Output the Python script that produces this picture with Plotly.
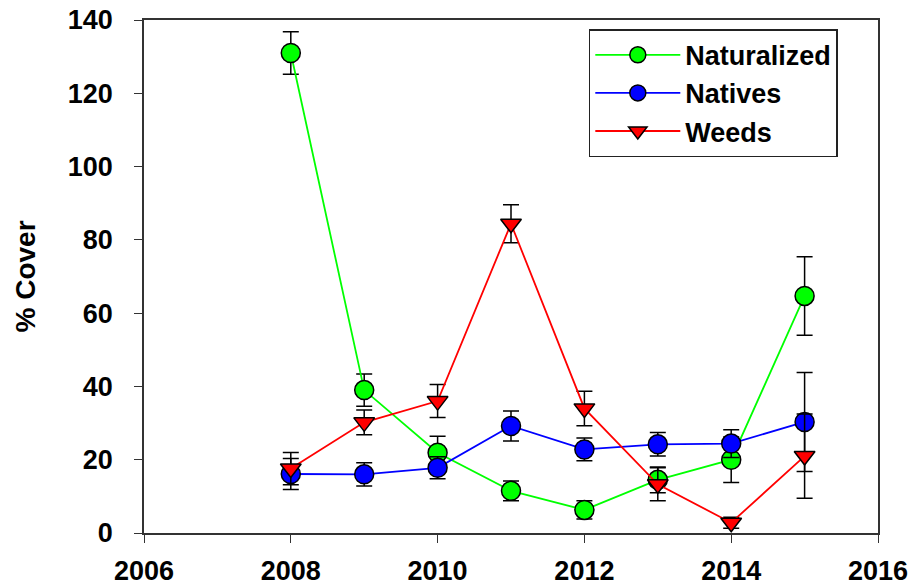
import plotly.graph_objects as go

years = [2008, 2009, 2010, 2011, 2012, 2013, 2014, 2015]

naturalized = [131.0, 39.0, 21.9, 11.5, 6.3, 14.5, 20.0, 64.7]
naturalized_err = [5.8, 4.4, 4.5, 2.7, 2.5, 3.5, 6.2, 10.7]

natives = [16.1, 16.0, 17.8, 29.2, 22.8, 24.2, 24.4, 30.3]
natives_err = [4.2, 3.2, 3.0, 4.1, 3.1, 3.2, 3.8, 13.5]

weeds = [17.6, 30.2, 36.0, 84.4, 34.0, 13.3, 2.8, 21.0]
weeds_err = [4.4, 3.4, 4.5, 5.2, 4.7, 4.5, 1.5, 11.5]

series = [
    ("Naturalized", naturalized, naturalized_err, "#00FF00", "circle", 19),
    ("Natives", natives, natives_err, "#0000FF", "circle", 19),
    ("Weeds", weeds, weeds_err, "#FF0000", "triangle-down", 18),
]

font_family = "Liberation Sans, Arial, sans-serif"

fig = go.Figure()
for name, ys, errs, color, symbol, msize in series:
    fig.add_trace(
        go.Scatter(
            x=years,
            y=ys,
            name=name,
            mode="lines+markers",
            line={"color": color, "width": 1.8},
            marker={
                "symbol": symbol,
                "size": msize,
                "color": color,
                "line": {"color": "black", "width": 1.5},
            },
            error_y={
                "type": "data",
                "array": errs,
                "visible": True,
                "color": "black",
                "thickness": 1.5,
                "width": 8,
            },
        )
    )

axis_common = dict(
    showgrid=False,
    zeroline=False,
    showline=True,
    linecolor="#333333",
    linewidth=1.6,
    mirror=True,
    ticks="outside",
    ticklen=8,
    tickwidth=1.4,
    tickcolor="#333333",
    automargin=False,
    tickfont=dict(family=font_family, size=27, color="black", weight="bold"),
)

fig.update_layout(
    width=911,
    height=586,
    margin={"l": 144, "r": 33, "t": 20, "b": 53},
    paper_bgcolor="white",
    plot_bgcolor="white",
    font=dict(family=font_family, color="black"),
    showlegend=True,
    legend=dict(
        x=0.606,
        y=0.982,
        xanchor="left",
        yanchor="top",
        bordercolor="#222222",
        borderwidth=1.5,
        bgcolor="white",
        itemwidth=85,
        font=dict(family=font_family, size=27, color="black", weight="bold"),
        tracegroupgap=0,
    ),
    xaxis=dict(
        range=[2006, 2016],
        dtick=2,
        tick0=2006,
        ticklabelstandoff=5,
        **axis_common,
    ),
    yaxis=dict(
        range=[0, 140],
        dtick=20,
        ticklabelstandoff=16,
        title=dict(
            text="% Cover",
            font=dict(family=font_family, size=28, color="black", weight="bold"),
            standoff=24,
        ),
        **axis_common,
    ),
)

# drop the default page margin so the figure sits at the window corner
fig.write_html(
    "out.html",
    config={"displayModeBar": False},
    post_script="document.body.style.margin='0px';",
)
